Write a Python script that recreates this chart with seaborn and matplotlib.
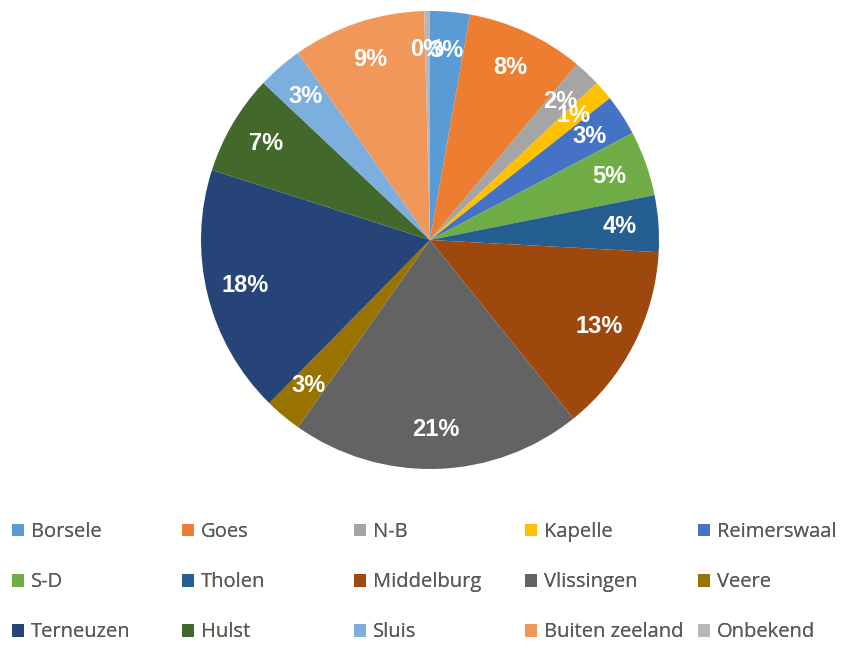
import matplotlib
matplotlib.use("Agg")
import matplotlib.pyplot as plt
import seaborn as sns

# data (percentages)
gemeenten = ['Borsele', 'Goes', 'N-B', 'Kapelle', 'Reimerswaal',
             'S-D', 'Tholen', 'Middelburg', 'Vlissingen', 'Veere',
             'Terneuzen', 'Hulst', 'Sluis', 'Buiten zeeland', 'Onbekend']
aandeel = [2.8, 8.3, 1.9, 1.4, 2.9, 4.6, 4.0, 13.4, 20.6, 2.6,
           17.6, 7.1, 3.2, 9.4, 0.4]
kleuren = ['#5B9BD5', '#ED7D31', '#A5A5A5', '#FFC000', '#4472C4',
           '#70AD47', '#255E91', '#9E480E', '#636363', '#997300',
           '#264478', '#43682B', '#7CAFDD', '#F1975A', '#B7B7B7']

sns.set_theme(style="white")
plt.rcParams['font.family'] = ['Open Sans', 'DejaVu Sans']

fig = plt.figure(figsize=(8.55, 6.46), dpi=100)
fig.patch.set_facecolor('white')

# pie axes: centre (430, 240) px, radius 229 px
ax = fig.add_axes([(430 - 229) / 855, (646 - 469) / 646, 458 / 855, 458 / 646])
wedges, _, pcts = ax.pie(aandeel, colors=sns.color_palette(kleuren),
                         startangle=90, counterclock=False,
                         autopct='%.0f%%', pctdistance=0.83,
                         wedgeprops=dict(linewidth=0),
                         textprops=dict(color='white', fontsize=17, fontweight='bold',
                                        family=['Liberation Sans', 'DejaVu Sans']))
ax.set_xlim(-1, 1)
ax.set_ylim(-1, 1)
ax.set_aspect('equal')

# legend: 5 columns filled row by row, one legend per column
kolom_x = [12, 182, 354, 525, 698]
for c, x in enumerate(kolom_x):
    idx = [r * 5 + c for r in range(3)]
    leg = fig.legend([wedges[i] for i in idx], [gemeenten[i] for i in idx],
                     loc='upper left', bbox_to_anchor=(x / 855, (646 - 522) / 646),
                     frameon=False, fontsize=14.5, labelcolor='#595959',
                     handlelength=0.6, handleheight=0.6, handletextpad=0.35,
                     labelspacing=1.5, borderaxespad=0, borderpad=0)
    fig.add_artist(leg)

fig.savefig('out.png', dpi=100, facecolor='white')
